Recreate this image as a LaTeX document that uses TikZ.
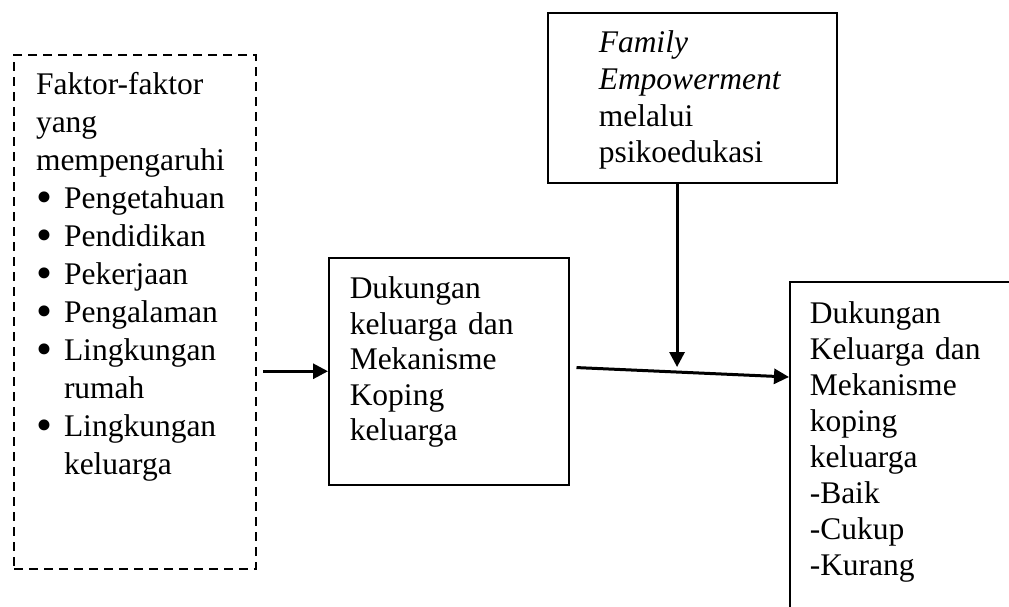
\documentclass[tikz,border=0pt]{standalone}
\usepackage{fontspec}
\setmainfont{Liberation Serif}
\usetikzlibrary{arrows.meta}

\newcommand{\itemdot}{\makebox[28pt][l]{\raisebox{-4.5pt}{\scalebox{1.45}{\textbullet}}}}
\newcommand{\itemrest}{\hspace*{28pt}}

\begin{document}
\begin{tikzpicture}[x=1pt, y=-1pt,
    box/.style={draw, line width=1.5pt, anchor=north west, inner ysep=0pt, align=left},
    arr/.style={-{Triangle[length=15pt,width=15pt]}, line width=3pt}]

    \useasboundingbox (0,0) rectangle (1009,606);

    %% Boxes
    % Factors (dashed)
    \node[box, dash pattern=on 9pt off 6pt, line width=2pt, inner xsep=22pt, text width=198pt,
          text height=39pt, text depth=475pt, font=\fontsize{31.5}{38}\selectfont] (factors) at (13,54)
        {Faktor-faktor\\ yang\\ mempengaruhi\\ \itemdot Pengetahuan\\ \itemdot Pendidikan\\
         \itemdot Pekerjaan\\ \itemdot Pengalaman\\ \itemdot Lingkungan\\ \itemrest rumah\\
         \itemdot Lingkungan\\ \itemrest keluarga};

    % Family support
    \node[box, inner xsep=21pt, text width=198pt, text height=41pt, text depth=186pt,
          font=\fontsize{31.5}{35.5}\selectfont] (support) at (328,257)
        {Dukungan\\ keluarga dan\\ Mekanisme\\ Koping\\ keluarga};

    % Empowerment
    \node[box, inner xsep=51pt, text width=187pt, text height=40pt, text depth=130pt,
          font=\fontsize{31.5}{36.7}\selectfont] (empower) at (547,12)
        {\textit{Family}\\ \textit{Empowerment}\\ melalui\\ psikoedukasi};

    % Outcome (runs off the page)
    \node[box, inner xsep=20pt, text width=260pt, text height=42pt, text depth=400pt,
          font=\fontsize{31.5}{36}\selectfont] (outcome) at (789,281)
        {Dukungan\\ Keluarga dan\\ Mekanisme\\ koping\\ keluarga\\ -Baik\\ -Cukup\\ -Kurang};

    %% Arrows
    \draw[arr, shorten <=6pt] (factors.east |- support.west) -- (support.west);
    \draw[arr, shorten <=7pt] ([yshift=4pt]support.east) -- coordinate[pos=0.49] (meet) ([yshift=-96pt]outcome.north west);
    \draw[arr, shorten >=5pt] (empower.south -| meet) -- (meet);

\end{tikzpicture}
\end{document}
